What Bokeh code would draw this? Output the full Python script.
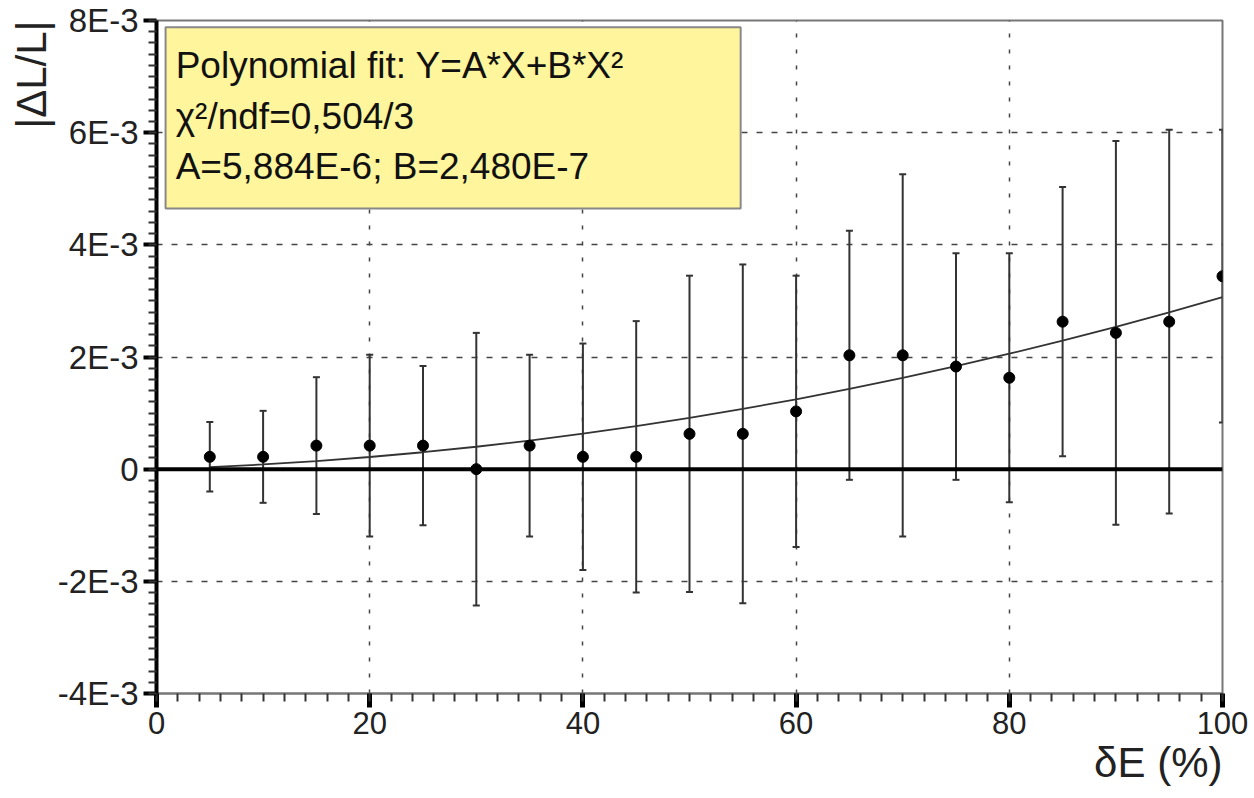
from bokeh.plotting import figure
from bokeh.models import (ColumnDataSource, Whisker, TeeHead, Span, BoxAnnotation,
                          Label, Title, Range1d, SingleIntervalTicker)
from bokeh.embed import file_html
from bokeh.resources import INLINE

# ---- data (y values in units of 1E-3) ----
dE = [5, 10, 15, 20, 25, 30, 35, 40, 45, 50, 55, 60, 65, 70, 75, 80, 85, 90, 95, 100]
dLL = [0.22, 0.22, 0.42, 0.42, 0.42, 0.0, 0.42, 0.22, 0.22, 0.63,
       0.63, 1.03, 2.03, 2.03, 1.83, 1.63, 2.63, 2.43, 2.63, 3.44]
err = [0.62, 0.82, 1.22, 1.62, 1.42, 2.43, 1.62, 2.02, 2.42, 2.82,
       3.02, 2.42, 2.22, 3.23, 2.02, 2.22, 2.40, 3.42, 3.42, 2.61]
fit_x = [5, 10, 15, 20, 25, 30, 35, 40, 45, 50, 55, 60, 65, 70, 75, 80, 85, 90, 95, 100]
fit_y = [0.036, 0.084, 0.144, 0.217, 0.302, 0.400, 0.510, 0.632, 0.767, 0.914,
         1.074, 1.246, 1.430, 1.627, 1.836, 2.058, 2.292, 2.538, 2.797, 3.068]
y_tick_labels = {8: "8E-3", 6: "6E-3", 4: "4E-3", 2: "2E-3", 0: "0", -2: "-2E-3", -4: "-4E-3"}
fit_lines = ["Polynomial fit: Y=A*X+B*X\u00b2", "\u03c7\u00b2/ndf=0,504/3", "A=5,884E-6; B=2,480E-7"]
x_label = "\u03b4E (%)"
y_label = "|\u0394L/L|"

FONT = "Liberation Sans"

src = ColumnDataSource(dict(
    x=dE, y=dLL,
    upper=[v + e for v, e in zip(dLL, err)],
    lower=[v - e for v, e in zip(dLL, err)],
))

p = figure(width=1254, height=798, output_backend="svg", toolbar_location=None,
           x_range=Range1d(0, 100), y_range=Range1d(-4, 8),
           min_border_left=156, min_border_right=32, min_border_top=20, min_border_bottom=105)
p.background_fill_color = "white"
p.border_fill_color = "white"
p.outline_line_color = "#777777"
p.outline_line_width = 2

# axes
p.xaxis.ticker = SingleIntervalTicker(interval=20, num_minor_ticks=10)
p.yaxis.ticker = SingleIntervalTicker(interval=2, num_minor_ticks=10)
p.yaxis.major_label_overrides = y_tick_labels
for ax in (p.xaxis, p.yaxis):
    ax.major_label_text_font = FONT
    ax.major_label_text_color = "#222222"
    ax.major_tick_in = 0
    ax.minor_tick_in = 0
p.yaxis.major_label_text_font_size = "33px"
p.xaxis.major_label_text_font_size = "31px"
p.yaxis.axis_line_color = "black"
p.yaxis.axis_line_width = 4
p.yaxis.major_tick_out = 13
p.yaxis.major_tick_line_width = 4
p.yaxis.major_tick_line_color = "black"
p.yaxis.minor_tick_out = 8
p.yaxis.minor_tick_line_width = 2
p.yaxis.minor_tick_line_color = "#333333"
p.yaxis.major_label_standoff = 5

p.xaxis.axis_line_color = "#777777"
p.xaxis.axis_line_width = 2
p.xaxis.major_tick_out = 14
p.xaxis.major_tick_line_width = 5
p.xaxis.major_tick_line_color = "black"
p.xaxis.minor_tick_out = 8
p.xaxis.minor_tick_line_width = 2
p.xaxis.minor_tick_line_color = "#333333"
p.xaxis.major_label_standoff = 4

# grids
p.xgrid.grid_line_color = "#444444"
p.xgrid.grid_line_dash = "4 12"
p.xgrid.grid_line_width = 1.5
p.ygrid.grid_line_color = "#444444"
p.ygrid.grid_line_dash = "6 9"
p.ygrid.grid_line_width = 1.5

# axis titles
p.add_layout(Title(text=y_label, align="right", text_font=FONT, text_font_size="42px",
                   text_font_style="normal", text_color="#222222", standoff=0), "left")
p.add_layout(Title(text=x_label, align="right", text_font=FONT, text_font_size="42px",
                   text_font_style="normal", text_color="#222222", standoff=0), "below")

# zero line
p.add_layout(Span(location=0, dimension="width", line_color="black", line_width=4))

# fit curve
p.line(fit_x, fit_y, line_color="#333333", line_width=1.8)

# error bars
p.add_layout(Whisker(source=src, base="x", upper="upper", lower="lower",
                     line_color="#333333", line_width=2,
                     upper_head=TeeHead(size=7, line_color="#333333", line_width=2),
                     lower_head=TeeHead(size=7, line_color="#333333", line_width=2)))

# points
p.scatter("x", "y", source=src, size=11, color="black")

# fit box
p.add_layout(BoxAnnotation(left=0.85, right=54.8, top=7.88, bottom=4.65,
                           fill_color="#FEF59C", fill_alpha=1.0,
                           line_color="#888888", line_width=2, line_alpha=1.0))
for i, t in enumerate(fit_lines):
    p.add_layout(Label(x=1.8, y=7.19 - 0.893 * i, text=t, text_font=FONT,
                       text_font_size="37px", text_color="#111111",
                       text_baseline="alphabetic", text_align="left"))

open("out.html", "w").write(file_html(p, INLINE))
